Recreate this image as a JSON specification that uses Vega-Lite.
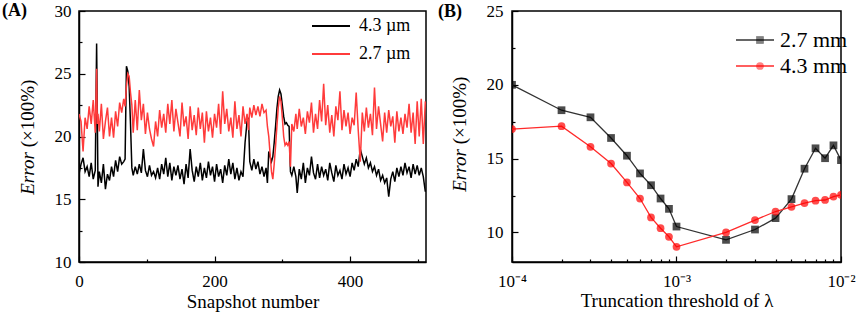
{
  "$schema": "https://vega.github.io/schema/vega-lite/v6.json",
  "padding": {"left": 1, "top": 1, "right": 0, "bottom": 0},
  "background": "white",
  "bounds": "flush",
  "spacing": 86,
  "config": {
    "font": "Liberation Serif",
    "view": {"stroke": "black", "strokeWidth": 1.5},
    "axis": {"grid": false, "labelFlush": false, "labelFont": "Liberation Serif", "labelFontSize": 17, "labelColor": "black", "domainColor": "black", "domainWidth": 1.5, "tickColor": "black", "tickWidth": 1.2, "titleFont": "Liberation Serif", "titleFontSize": 19, "titleFontWeight": "normal", "titleColor": "black"},
    "legend": {"labelFont": "Liberation Serif", "labelColor": "black", "padding": 0}
  },
  "datasets": {
    "ts": [
      {"s":0,"a":17.0,"b":21.8},{"s":3,"a":17.8,"b":21.2},{"s":6,"a":18.3,"b":18.8},{"s":9,"a":17.2,"b":21.5},{"s":12,"a":17.6,"b":20.6},{"s":15,"a":16.8,"b":22.4},{"s":18,"a":17.9,"b":21.0},{"s":21,"a":16.6,"b":22.9},{"s":24,"a":17.3,"b":20.3},{"s":26,"a":27.4,"b":25.4},{"s":27,"a":22.0,"b":21.0},{"s":28,"a":16.0,"b":21.8},
      {"s":30,"a":17.2,"b":20.4},{"s":33,"a":16.3,"b":22.6},{"s":36,"a":17.8,"b":19.8},{"s":39,"a":15.8,"b":21.2},{"s":42,"a":17.0,"b":22.3},{"s":45,"a":16.5,"b":20.0},{"s":48,"a":17.6,"b":21.5},{"s":51,"a":16.8,"b":19.9},{"s":54,"a":18.1,"b":22.0},{"s":57,"a":17.2,"b":20.8},{"s":60,"a":18.4,"b":22.7},{"s":63,"a":17.8,"b":21.9},{"s":66,"a":18.0,"b":23.0},{"s":68,"a":18.2,"b":22.4},
      {"s":70,"a":25.6,"b":24.0},{"s":72,"a":25.2,"b":25.0},{"s":74,"a":24.0,"b":24.8},{"s":76,"a":21.0,"b":23.5},{"s":78,"a":17.5,"b":22.5},{"s":80,"a":16.9,"b":20.3},{"s":83,"a":17.6,"b":22.9},{"s":86,"a":17.0,"b":20.5},{"s":89,"a":17.8,"b":23.7},{"s":92,"a":17.1,"b":21.3},{"s":95,"a":19.0,"b":22.6},{"s":98,"a":17.3,"b":20.2},
      {"s":101,"a":16.8,"b":21.9},{"s":104,"a":17.7,"b":20.6},{"s":107,"a":16.9,"b":19.8},{"s":110,"a":17.2,"b":19.2},{"s":113,"a":16.7,"b":21.2},{"s":116,"a":17.5,"b":20.0},{"s":119,"a":16.6,"b":22.1},{"s":122,"a":17.8,"b":20.7},{"s":125,"a":17.0,"b":21.8},{"s":128,"a":18.3,"b":20.3},{"s":131,"a":16.8,"b":22.6},{"s":134,"a":17.9,"b":21.0},{"s":137,"a":16.5,"b":22.9},{"s":140,"a":17.6,"b":20.4},{"s":143,"a":16.9,"b":22.2},{"s":146,"a":17.7,"b":21.1},{"s":149,"a":16.6,"b":20.0},
      {"s":152,"a":17.4,"b":22.7},{"s":155,"a":16.2,"b":20.8},{"s":158,"a":17.8,"b":21.6},{"s":161,"a":16.7,"b":19.8},{"s":164,"a":19.0,"b":22.4},{"s":167,"a":17.3,"b":20.5},{"s":170,"a":16.4,"b":21.7},{"s":173,"a":17.6,"b":20.1},{"s":176,"a":16.8,"b":22.3},{"s":179,"a":17.9,"b":20.6},{"s":182,"a":16.5,"b":21.9},{"s":185,"a":17.5,"b":19.5},{"s":188,"a":16.7,"b":22.0},{"s":191,"a":18.0,"b":20.4},{"s":194,"a":16.9,"b":21.5},{"s":197,"a":17.6,"b":19.9},
      {"s":200,"a":16.4,"b":21.8},{"s":203,"a":17.8,"b":20.7},{"s":206,"a":16.8,"b":22.6},{"s":209,"a":17.4,"b":20.2},{"s":212,"a":16.3,"b":23.6},{"s":215,"a":17.7,"b":21.0},{"s":218,"a":16.9,"b":22.2},{"s":221,"a":18.2,"b":20.4},{"s":224,"a":17.0,"b":21.5},{"s":227,"a":17.9,"b":19.9},{"s":230,"a":16.6,"b":22.8},{"s":233,"a":17.5,"b":20.6},{"s":236,"a":16.5,"b":21.7},{"s":239,"a":17.2,"b":20.0},{"s":242,"a":16.8,"b":22.4},{"s":245,"a":19.5,"b":21.0},{"s":248,"a":21.2,"b":21.8},
      {"s":250,"a":21.5,"b":20.5},{"s":252,"a":18.0,"b":22.3},{"s":255,"a":17.3,"b":21.5},{"s":258,"a":18.2,"b":22.5},{"s":261,"a":17.4,"b":21.7},{"s":264,"a":18.0,"b":22.4},{"s":267,"a":17.0,"b":21.6},{"s":270,"a":17.6,"b":22.6},{"s":273,"a":16.8,"b":21.9},{"s":276,"a":17.5,"b":22.1},{"s":278,"a":16.3,"b":20.8},{"s":280,"a":18.8,"b":20.0},{"s":282,"a":18.4,"b":18.6},{"s":284,"a":18.0,"b":17.2},{"s":286,"a":18.4,"b":16.6},{"s":288,"a":19.5,"b":17.8},
      {"s":290,"a":20.8,"b":19.2},{"s":292,"a":22.2,"b":20.8},{"s":294,"a":23.2,"b":22.3},{"s":296,"a":23.7,"b":23.2},{"s":298,"a":23.4,"b":22.8},{"s":300,"a":22.5,"b":21.5},{"s":302,"a":21.6,"b":20.0},{"s":304,"a":21.0,"b":19.3},{"s":306,"a":21.1,"b":19.5},{"s":308,"a":20.9,"b":19.3},{"s":310,"a":20.8,"b":19.6},{"s":312,"a":17.2,"b":17.6},{"s":314,"a":16.9,"b":21.0},{"s":317,"a":17.6,"b":20.4},
      {"s":320,"a":16.8,"b":21.8},{"s":322,"a":15.5,"b":20.6},{"s":325,"a":17.4,"b":22.2},{"s":328,"a":16.6,"b":20.8},{"s":331,"a":17.9,"b":21.5},{"s":334,"a":16.3,"b":20.2},{"s":337,"a":17.5,"b":22.0},{"s":340,"a":16.9,"b":21.1},{"s":343,"a":18.4,"b":22.7},{"s":346,"a":17.1,"b":20.3},{"s":349,"a":16.6,"b":21.8},{"s":352,"a":17.8,"b":20.6},{"s":355,"a":16.7,"b":22.9},{"s":358,"a":17.6,"b":21.2},{"s":361,"a":16.9,"b":24.2},{"s":364,"a":17.4,"b":20.9},{"s":367,"a":16.5,"b":22.5},
      {"s":370,"a":17.9,"b":20.3},{"s":373,"a":17.1,"b":21.7},{"s":376,"a":16.4,"b":20.0},{"s":379,"a":17.7,"b":22.4},{"s":382,"a":16.9,"b":21.3},{"s":385,"a":17.3,"b":23.6},{"s":388,"a":16.6,"b":20.5},{"s":391,"a":17.8,"b":22.1},{"s":394,"a":17.0,"b":20.8},{"s":397,"a":17.5,"b":21.9},{"s":400,"a":16.8,"b":20.2},{"s":403,"a":17.9,"b":21.5},{"s":406,"a":17.3,"b":20.9},{"s":409,"a":18.2,"b":23.5},{"s":412,"a":17.6,"b":20.5},{"s":415,"a":19.0,"b":18.0},{"s":418,"a":18.4,"b":21.9},
      {"s":421,"a":17.8,"b":20.4},{"s":424,"a":18.3,"b":22.3},{"s":427,"a":17.5,"b":20.7},{"s":430,"a":17.9,"b":21.8},{"s":433,"a":17.2,"b":20.1},{"s":436,"a":17.6,"b":23.9},{"s":439,"a":16.9,"b":20.6},{"s":442,"a":17.4,"b":22.4},{"s":445,"a":16.5,"b":21.0},{"s":448,"a":16.9,"b":19.6},{"s":451,"a":16.3,"b":21.9},{"s":454,"a":16.7,"b":20.3},{"s":457,"a":15.2,"b":22.1},{"s":460,"a":16.6,"b":20.8},{"s":463,"a":17.2,"b":21.6},{"s":466,"a":16.4,"b":19.5},{"s":469,"a":17.5,"b":22.0},
      {"s":472,"a":16.8,"b":20.4},{"s":475,"a":17.6,"b":21.5},{"s":478,"a":16.9,"b":20.2},{"s":481,"a":17.9,"b":21.8},{"s":484,"a":17.1,"b":20.7},{"s":487,"a":17.6,"b":22.6},{"s":490,"a":16.7,"b":20.3},{"s":493,"a":17.8,"b":21.9},{"s":496,"a":17.0,"b":19.4},{"s":499,"a":17.7,"b":22.8},{"s":502,"a":16.9,"b":20.0},{"s":505,"a":17.5,"b":23.0},{"s":508,"a":16.8,"b":19.4},{"s":511,"a":15.6,"b":22.8}
    ],
    "tr": [
      {"t":0.0001,"k":"2.7 mm","e":20.0},{"t":0.0002,"k":"2.7 mm","e":18.28},{"t":0.0003,"k":"2.7 mm","e":17.8},{"t":0.0004,"k":"2.7 mm","e":16.4},{"t":0.0005,"k":"2.7 mm","e":15.2},{"t":0.0006,"k":"2.7 mm","e":14.0},{"t":0.0007,"k":"2.7 mm","e":13.2},{"t":0.0008,"k":"2.7 mm","e":12.3},{"t":0.0009,"k":"2.7 mm","e":11.6},{"t":0.001,"k":"2.7 mm","e":10.4},
      {"t":0.002,"k":"2.7 mm","e":9.5},{"t":0.003,"k":"2.7 mm","e":10.2},{"t":0.004,"k":"2.7 mm","e":10.97},{"t":0.005,"k":"2.7 mm","e":12.26},{"t":0.006,"k":"2.7 mm","e":14.32},{"t":0.007,"k":"2.7 mm","e":15.7},{"t":0.008,"k":"2.7 mm","e":15.03},{"t":0.009,"k":"2.7 mm","e":15.9},{"t":0.01,"k":"2.7 mm","e":14.9},
      {"t":0.0001,"k":"4.3 mm","e":17.0},{"t":0.0002,"k":"4.3 mm","e":17.2},{"t":0.0003,"k":"4.3 mm","e":15.8},{"t":0.0004,"k":"4.3 mm","e":14.67},{"t":0.0005,"k":"4.3 mm","e":13.39},{"t":0.0006,"k":"4.3 mm","e":12.3},{"t":0.0007,"k":"4.3 mm","e":11.02},{"t":0.0008,"k":"4.3 mm","e":10.29},{"t":0.0009,"k":"4.3 mm","e":9.71},{"t":0.001,"k":"4.3 mm","e":9.03},
      {"t":0.002,"k":"4.3 mm","e":10.0},{"t":0.003,"k":"4.3 mm","e":10.84},{"t":0.004,"k":"4.3 mm","e":11.42},{"t":0.005,"k":"4.3 mm","e":11.74},{"t":0.006,"k":"4.3 mm","e":11.99},{"t":0.007,"k":"4.3 mm","e":12.15},{"t":0.008,"k":"4.3 mm","e":12.2},{"t":0.009,"k":"4.3 mm","e":12.43},{"t":0.01,"k":"4.3 mm","e":12.55}
    ]
  },
  "hconcat": [
    {
      "width": 347,
      "height": 251,
      "title": {"text": "(A)", "anchor": "start", "frame": "group", "orient": "top", "offset": 0, "baseline": "middle", "dx": -77, "dy": 27, "fontSize": 18, "fontWeight": "bold", "font": "Liberation Serif", "color": "black"},
      "data": {"name": "ts"},
      "layer": [
        {
          "mark": {"type": "line", "strokeWidth": 1.5, "clip": true},
          "encoding": {
            "x": {"field": "s", "type": "quantitative", "scale": {"domain": [0, 512], "nice": false}, "axis": {"orient": "bottom", "values": [0, 200, 400], "tickSize": -6, "labelPadding": 17, "title": "Snapshot number", "titleY": 45, "titleBaseline": "alphabetic"}},
            "y": {"field": "a", "type": "quantitative", "scale": {"domain": [10, 30], "nice": false, "zero": false}, "axis": {"orient": "left", "values": [10, 15, 20, 25, 30], "tickSize": -6, "labelPadding": 14, "title": "Error", "titleFontStyle": "italic", "titleX": -52, "titleY": 162, "titleAngle": -90, "titleAlign": "center", "titleBaseline": "middle"}},
            "color": {"datum": "4.3 µm", "type": "nominal", "scale": {"domain": ["4.3 µm", "2.7 µm"], "range": ["#000000", "#ff3b3b"]}, "legend": {"title": null, "orient": "none", "legendX": 241, "legendY": 4, "symbolType": "M-1.9,0H1.9", "symbolSize": 400, "symbolStrokeWidth": 2, "labelFontSize": 18, "labelOffset": 17, "rowPadding": 8}}
          }
        },
        {
          "mark": {"type": "line", "strokeWidth": 1.5, "clip": true},
          "encoding": {
            "x": {"field": "s", "type": "quantitative", "axis": {"orient": "bottom", "values": [100, 300, 500], "tickSize": -3, "labels": false, "domain": false, "title": null}},
            "y": {"field": "b", "type": "quantitative", "axis": {"orient": "left", "values": [12.5, 17.5, 22.5, 27.5], "tickSize": -3, "labels": false, "domain": false, "title": "(×100%)", "titleX": -52, "titleY": 102, "titleAngle": -90, "titleAlign": "center", "titleBaseline": "middle"}},
            "color": {"datum": "2.7 µm", "type": "nominal"}
          }
        }
      ],
      "resolve": {"axis": {"x": "independent", "y": "independent"}}
    },
    {
      "width": 329,
      "height": 251,
      "title": {"text": "(B)", "anchor": "start", "frame": "group", "orient": "top", "offset": 0, "baseline": "middle", "dx": -74, "dy": 28, "fontSize": 18, "fontWeight": "bold", "font": "Liberation Serif", "color": "black"},
      "data": {"name": "tr"},
      "layer": [
        {
          "mark": {"type": "line", "strokeWidth": 1.3},
          "encoding": {
            "x": {"field": "t", "type": "quantitative", "scale": {"type": "log", "domain": [0.0001, 0.01], "nice": false}, "axis": {"orient": "bottom", "values": [0.0001, 0.001, 0.01], "tickSize": -6, "labelPadding": 17, "labelExpr": "datum.value < 0.0005 ? '10⁻⁴' : datum.value < 0.005 ? '10⁻³' : '10⁻²'", "title": "Truncation threshold of λ", "titleY": 44, "titleBaseline": "alphabetic"}},
            "y": {"field": "e", "type": "quantitative", "scale": {"domain": [8, 25], "nice": false, "zero": false}, "axis": {"orient": "left", "values": [10, 15, 20, 25], "tickSize": -6, "labelPadding": 15, "title": "Error", "titleFontStyle": "italic", "titleX": -53, "titleY": 159, "titleAngle": -90, "titleAlign": "center", "titleBaseline": "middle"}},
            "stroke": {"field": "k", "type": "nominal", "scale": {"domain": ["2.7 mm", "4.3 mm"], "range": ["#333333", "#ff2a2a"]}, "legend": {"title": null, "orient": "none", "legendX": 232, "legendY": 18, "symbolType": "M-1.9,0H1.9", "symbolSize": 400, "symbolStrokeWidth": 1.3, "labelFontSize": 22, "labelOffset": 14, "rowPadding": 4}}
          }
        },
        {
          "mark": {"type": "point", "filled": true, "size": 60, "clip": true},
          "encoding": {
            "x": {"field": "t", "type": "quantitative", "axis": {"orient": "bottom", "values": [0.0002, 0.0003, 0.0004, 0.0005, 0.0006, 0.0007, 0.0008, 0.0009, 0.002, 0.003, 0.004, 0.005, 0.006, 0.007, 0.008, 0.009], "tickSize": -3, "labels": false, "domain": false, "title": null}},
            "y": {"field": "e", "type": "quantitative", "axis": {"orient": "left", "values": [12.5, 17.5, 22.5], "tickSize": -3, "labels": false, "domain": false, "title": "(×100%)", "titleX": -53, "titleY": 99, "titleAngle": -90, "titleAlign": "center", "titleBaseline": "middle"}},
            "color": {"field": "k", "type": "nominal", "scale": {"range": ["#000000", "#ff0000"]}, "legend": {"title": null, "orient": "none", "legendX": 237, "legendY": 18, "symbolSize": 60, "symbolOpacity": 1, "labelFontSize": 22, "labelExpr": "''", "rowPadding": 4}},
            "shape": {"field": "k", "type": "nominal", "scale": {"range": ["square", "circle"]}, "legend": {"title": null, "orient": "none", "legendX": 237, "legendY": 18, "symbolSize": 60, "labelFontSize": 22, "labelExpr": "''", "rowPadding": 4}}
          }
        }
      ],
      "resolve": {"axis": {"x": "independent", "y": "independent"}}
    }
  ],
  "resolve": {"scale": {"color": "independent", "stroke": "independent", "shape": "independent"}}
}
